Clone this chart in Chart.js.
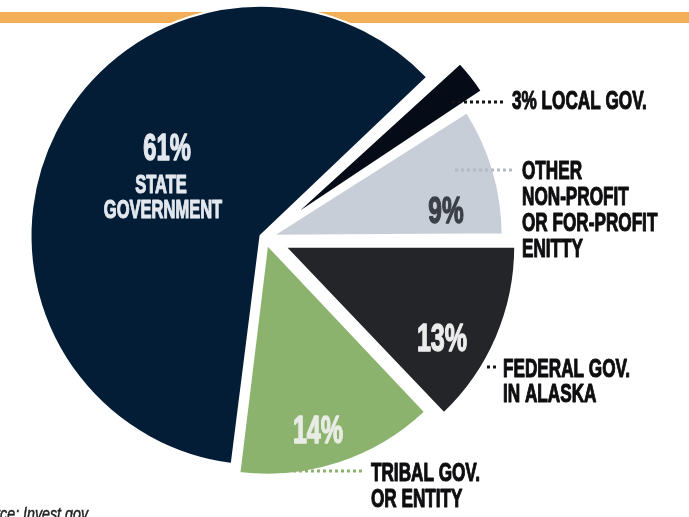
<!DOCTYPE html>
<html><head><meta charset="utf-8">
<script src="https://cdn.jsdelivr.net/npm/chart.js@4.4.1/dist/chart.umd.min.js"></script>
<style>
html,body{margin:0;padding:0;background:#fff;overflow:hidden}
#wrap{position:relative;width:689px;height:517px}
canvas{display:block}
</style>
</head><body>
<div id="wrap"><canvas id="c" width="689" height="517"></canvas></div>
<script>
// ---- data ----
const categories = ['State government', 'Local gov.', 'Other non-profit or for-profit enitty', 'Federal gov. in Alaska', 'Tribal gov. or entity'];
const shares = [61, 3, 9, 13, 14];
const valueLabels = ['61%', '3%', '9%', '13%', '14%'];
const outsideLines = [
  [],
  ['3% LOCAL GOV.'],
  ['OTHER', 'NON-PROFIT', 'OR FOR-PROFIT', 'ENITTY'],
  ['FEDERAL GOV.', 'IN ALASKA'],
  ['TRIBAL GOV.', 'OR ENTITY']
];
const insideLines = [['STATE', 'GOVERNMENT'], [], [], [], []];
const sourceText = 'Source: Invest.gov';

// ---- styles ----
const sliceColors = ['#041d36', '#050b17', '#c7ced8', '#242528', '#8bb36d'];
const explode = [5, 32, 8, 22, 7];           // px translation of each slice
const FONT = '"Liberation Sans", Arial, sans-serif';
const SX = 0.66;                              // horizontal condensing

// label placement relative to the pie centre (px)
const insideStyle = [
  {dx: -98, dy: -88, size: 36, color: '#e3e8ee', sub: {dx: -104, dy: -52, step: 25, size: 25}},
  null,
  {dx: 181, dy: -25, size: 37, color: '#3b4048'},
  {dx: 177, dy: 103, size: 38, color: '#ececec'},
  {dx: 53, dy: 195, size: 38, color: '#e8ece4'}
];
const outsideStyle = [
  null,
  {x: 247, y: -136, step: 26, lead: [187, 240, -136], dot: '#151515'},
  {x: 257, y: -66, step: 26, lead: [190, 248, -68], dot: '#b3bac4'},
  {x: 238, y: 132, step: 25, lead: [222, 234, 129], dot: '#151515'},
  {x: 106, y: 236, step: 26, lead: [28, 98, 233], dot: '#8bb36d'}
];

function condText(ctx, text, x, y, size, color, align, style) {
  ctx.save();
  ctx.font = (style || 'bold') + ' ' + size + 'px ' + FONT;
  ctx.fillStyle = color;
  ctx.strokeStyle = color;
  ctx.lineWidth = size > 30 ? 1.4 : 1.1;
  ctx.lineJoin = 'round';
  ctx.textBaseline = 'middle';
  ctx.textAlign = align;
  ctx.translate(x, y);
  ctx.scale(SX, 1);
  ctx.fillText(text, 0, 0);
  ctx.strokeText(text, 0, 0);
  ctx.restore();
}

const backdrop = {
  id: 'backdrop',
  beforeDraw(chart) {
    const ctx = chart.ctx;
    ctx.save();
    ctx.fillStyle = '#f3ae58';
    ctx.fillRect(0, 12, chart.width, 11);
    ctx.restore();
  }
};

const equalRadius = {
  id: 'equalRadius',
  beforeDatasetsDraw(chart) {
    const meta = chart.getDatasetMeta(0);
    const R = meta.controller.outerRadius;
    meta.data.forEach(arc => {
      const t = (arc.options.offset || 0) / 4;
      const fix = 1 - Math.sin(Math.min(Math.PI, arc.circumference));
      arc.outerRadius = R - t * fix;
    });
  }
};

const labels = {
  id: 'labels',
  afterDatasetsDraw(chart) {
    const ctx = chart.ctx;
    const arc0 = chart.getDatasetMeta(0).data[0];
    const cx = arc0.x, cy = arc0.y;
    outsideStyle.forEach((s, i) => {
      if (!s) return;
      ctx.save();
      ctx.strokeStyle = s.dot;
      ctx.lineWidth = 3;
      ctx.setLineDash([3, 3]);
      ctx.beginPath();
      ctx.moveTo(cx + s.lead[0], cy + s.lead[2]);
      ctx.lineTo(cx + s.lead[1], cy + s.lead[2]);
      ctx.stroke();
      ctx.restore();
      outsideLines[i].forEach((t, k) => {
        condText(ctx, t, cx + s.x, cy + s.y + k * s.step, 26, '#0e0e10', 'left');
      });
    });
    insideStyle.forEach((s, i) => {
      if (!s) return;
      condText(ctx, valueLabels[i], cx + s.dx, cy + s.dy, s.size, s.color, 'center');
      if (s.sub) {
        insideLines[i].forEach((t, k) => {
          condText(ctx, t, cx + s.sub.dx + 2 * k, cy + s.sub.dy + k * s.sub.step, s.sub.size, s.color, 'center');
        });
      }
    });
    // source
    ctx.save();
    ctx.font = 'italic 19px ' + FONT;
    ctx.fillStyle = '#222';
    ctx.strokeStyle = '#222';
    ctx.lineWidth = 0.5;
    ctx.textAlign = 'right';
    ctx.textBaseline = 'alphabetic';
    ctx.translate(88, 520);
    ctx.scale(0.75, 1);
    ctx.fillText(sourceText, 0, 0);
    ctx.strokeText(sourceText, 0, 0);
    ctx.restore();
  }
};

new Chart(document.getElementById('c'), {
  type: 'pie',
  data: {
    labels: categories,
    datasets: [{
      data: shares,
      backgroundColor: sliceColors,
      borderColor: '#ffffff',
      borderWidth: 2,
      offset: explode.map(v => v * 4)
    }]
  },
  options: {
    responsive: false,
    animation: false,
    events: [],
    rotation: 187,
    radius: 230,
    layout: {padding: {left: 0, right: 159, top: 0, bottom: 41}},
    plugins: {legend: {display: false}, tooltip: {enabled: false}}
  },
  plugins: [backdrop, equalRadius, labels]
});
</script>
</body></html>
